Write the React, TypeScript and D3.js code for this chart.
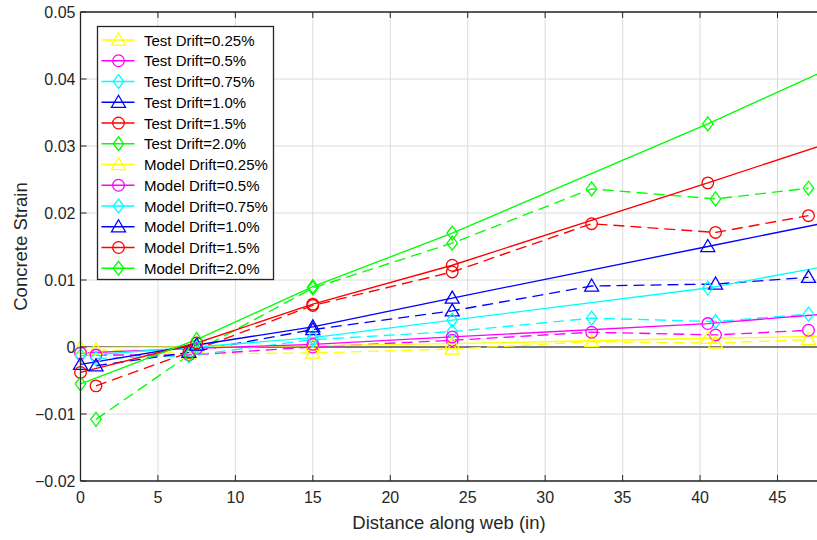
import React from "react";
import * as d3 from "d3";

const testX = [1, 7, 15, 24, 33, 41, 47];
const modelX = [0, 7.5, 15, 24, 40.5, 48];

const test025 = [-0.0004, -0.001, -0.0009, -0.0003, 0.0008, 0.0006, 0.0011];
const test05 = [-0.0012, -0.0012, 0.0, 0.001, 0.0022, 0.0018, 0.0025];
const test075 = [-0.0017, -0.0013, 0.0011, 0.0023, 0.0043, 0.0038, 0.0049];
const test10 = [-0.0028, -0.0008, 0.0026, 0.0054, 0.0091, 0.0094, 0.0104];
const test15 = [-0.0058, -0.0008, 0.0062, 0.0112, 0.0184, 0.0171, 0.0196];
const test20 = [-0.0108, -0.0012, 0.0088, 0.0155, 0.0236, 0.0221, 0.0237];

const model025 = [-0.0001, 0.0, 0.0002, 0.0005, 0.0013, 0.0016];
const model05 = [-0.0009, -0.0002, 0.0004, 0.0015, 0.0035, 0.0049];
const model075 = [-0.0013, 0.0, 0.0014, 0.004, 0.0088, 0.012];
const model10 = [-0.0026, 0.0003, 0.003, 0.0073, 0.015, 0.0185];
const model15 = [-0.0038, 0.0006, 0.0064, 0.0122, 0.0245, 0.0302];
const model20 = [-0.0055, 0.0011, 0.009, 0.017, 0.0333, 0.0412];

const driftLabels = ["0.25%", "0.5%", "0.75%", "1.0%", "1.5%", "2.0%"];
const colors = ["#ffff00", "#ff00ff", "#00ffff", "#0000ff", "#ff0000", "#00ff00"];
const markers = ["triangle", "circle", "diamond", "triangle", "circle", "diamond"];

const xTicks = [0, 5, 10, 15, 20, 25, 30, 35, 40, 45];
const yTicks = [-0.02, -0.01, 0, 0.01, 0.02, 0.03, 0.04, 0.05];

const W = 817;
const H = 540;
const left = 80.5;
const top = 12;
const bottom = 481;
const xMax = 47.6;
const x = d3.scaleLinear().domain([0, 45]).range([left, 777.5]);
const right = x(xMax);
const y = d3.scaleLinear().domain([-0.02, 0.05]).range([bottom, top]);

const FONT = "'Liberation Sans', Arial, Helvetica, sans-serif";
const AX = "#262626";
const LW = 1.35;

function Marker({ type, cx, cy, color }: { type: string; cx: number; cy: number; color: string }) {
  if (type === "circle") {
    return <circle cx={cx} cy={cy} r={5.8} fill="none" stroke={color} strokeWidth={1.3} />;
  }
  if (type === "triangle") {
    const s = 7;
    return (
      <path
        d={`M${cx},${cy - s} L${cx + s},${cy + s * 0.72} L${cx - s},${cy + s * 0.72} Z`}
        fill="none"
        stroke={color}
        strokeWidth={1.3}
      />
    );
  }
  const s = 7;
  return (
    <path
      d={`M${cx},${cy - s} L${cx + s * 0.75},${cy} L${cx},${cy + s} L${cx - s * 0.75},${cy} Z`}
      fill="none"
      stroke={color}
      strokeWidth={1.3}
    />
  );
}

export default function App() {
  const tests = [test025, test05, test075, test10, test15, test20];
  const models = [model025, model05, model075, model10, model15, model20];
  const line = d3
    .line<[number, number]>()
    .x((d) => x(d[0]))
    .y((d) => y(d[1]));

  const legendItems = [
    ...driftLabels.map((l, i) => ({ label: `Test Drift=${l}`, i })),
    ...driftLabels.map((l, i) => ({ label: `Model Drift=${l}`, i })),
  ];
  const lgX = 97.5;
  const lgY = 26.5;
  const lgW = 176;
  const lgH = 253;
  const rowH = 20.75;

  return (
    <div style={{ position: "absolute", left: 0, top: 0 }}>
      <svg width={W} height={H} style={{ display: "block", background: "#fff" }}>
        <defs>
          <clipPath id="plotclip">
            <rect x={left} y={top} width={right - left} height={bottom - top} />
          </clipPath>
        </defs>
        {/* grid */}
        {xTicks.map((t) => (
          <line key={"gx" + t} x1={x(t)} x2={x(t)} y1={top} y2={bottom} stroke="#dcdcdc" strokeWidth={1} />
        ))}
        {yTicks.map((t) => (
          <line key={"gy" + t} x1={left} x2={right} y1={y(t)} y2={y(t)} stroke="#dcdcdc" strokeWidth={1} />
        ))}
        {/* zero line */}
        <line x1={left} x2={right} y1={y(0)} y2={y(0)} stroke="#555" strokeWidth={1.6} />
        {/* lines */}
        <g clipPath="url(#plotclip)">
          {tests.map((s, i) => (
            <path
              key={"t" + i}
              d={line(testX.map((v, k) => [v, s[k]]) as [number, number][]) || ""}
              fill="none"
              stroke={colors[i]}
              strokeWidth={LW}
              strokeDasharray="11,6"
            />
          ))}
          {models.map((s, i) => (
            <path
              key={"m" + i}
              d={line(modelX.map((v, k) => [v, s[k]]) as [number, number][]) || ""}
              fill="none"
              stroke={colors[i]}
              strokeWidth={LW}
            />
          ))}
        </g>
        {/* markers */}
        {tests.map((s, i) =>
          testX.map((v, k) => (
            <Marker key={`tm${i}-${k}`} type={markers[i]} cx={x(v)} cy={y(s[k])} color={colors[i]} />
          ))
        )}
        {models.map((s, i) =>
          modelX
            .map((v, k) => ({ v, k }))
            .filter(({ v }) => v <= xMax)
            .map(({ v, k }) => (
              <Marker key={`mm${i}-${k}`} type={markers[i]} cx={x(v)} cy={y(s[k])} color={colors[i]} />
            ))
        )}
        {/* axes box */}
        <line x1={left} x2={left} y1={top} y2={bottom} stroke={AX} strokeWidth={1.3} />
        <line x1={left} x2={right} y1={bottom} y2={bottom} stroke={AX} strokeWidth={1.3} />
        <line x1={left} x2={right} y1={top} y2={top} stroke={AX} strokeWidth={1.3} />
        {xTicks.map((t) => (
          <g key={"xt" + t}>
            <line x1={x(t)} x2={x(t)} y1={bottom} y2={bottom - 6} stroke={AX} strokeWidth={1} />
            <line x1={x(t)} x2={x(t)} y1={top} y2={top + 6} stroke={AX} strokeWidth={1} />
            <text
              x={x(t)}
              y={bottom + 22}
              textAnchor="middle"
              fontFamily={FONT}
              fontSize={16}
              fill={AX}
            >
              {t}
            </text>
          </g>
        ))}
        {yTicks.map((t) => (
          <g key={"yt" + t}>
            <line x1={left} x2={left + 6} y1={y(t)} y2={y(t)} stroke={AX} strokeWidth={1} />
            <text
              x={left - 5}
              y={y(t) + 6}
              textAnchor="end"
              fontFamily={FONT}
              fontSize={16}
              fill={AX}
            >
              {t === 0 ? "0" : d3.format(".2f")(t)}
            </text>
          </g>
        ))}
        <text
          x={449}
          y={529}
          textAnchor="middle"
          fontFamily={FONT}
          fontSize={18.5}
          fill={AX}
        >
          Distance along web (in)
        </text>
        <text
          transform={`translate(27,${(top + bottom) / 2}) rotate(-90)`}
          textAnchor="middle"
          fontFamily={FONT}
          fontSize={18.5}
          fill={AX}
        >
          Concrete Strain
        </text>
        {/* legend */}
        <rect x={lgX} y={lgY} width={lgW} height={lgH} fill="#fff" stroke={AX} strokeWidth={1.3} />
        {legendItems.map((it, r) => {
          const cy = lgY + 13.5 + r * rowH;
          return (
            <g key={"lg" + r}>
              <line x1={lgX + 4} x2={lgX + 37} y1={cy} y2={cy} stroke={colors[it.i]} strokeWidth={LW} />
              <Marker type={markers[it.i]} cx={lgX + 21} cy={cy} color={colors[it.i]} />
              <text x={lgX + 46.5} y={cy + 5.5} fontFamily={FONT} fontSize={15} fill="#000">
                {it.label}
              </text>
            </g>
          );
        })}
      </svg>
    </div>
  );
}
